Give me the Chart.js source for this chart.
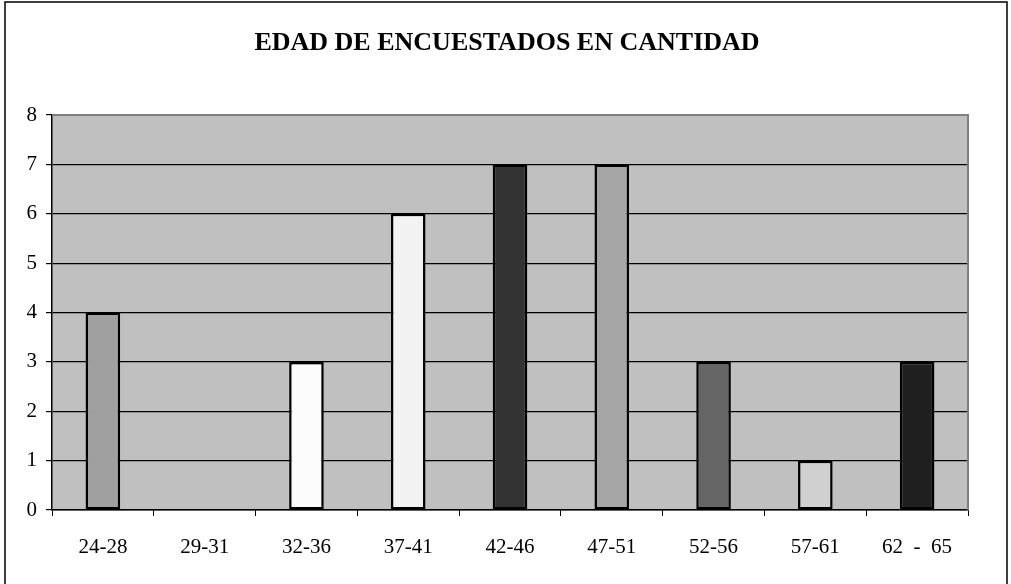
<!DOCTYPE html>
<html>
<head>
<meta charset="utf-8">
<script src="https://cdn.jsdelivr.net/npm/chart.js@4"></script>
<style>
  body { margin: 0; background: #fff; }
  #wrap { width: 1011px; height: 584px; position: relative; }
</style>
</head>
<body>
<div id="wrap"><canvas id="edadChart"></canvas></div>
<script>
// Data
const rangos = ['24-28', '29-31', '32-36', '37-41', '42-46', '47-51', '52-56', '57-61', '62  -  65'];
const cantidades = [4, 0, 3, 6, 7, 7, 3, 1, 3];
const colores = ['#A0A0A0', '#C0C0C0', '#FCFCFC', '#F2F2F2', '#333333', '#A6A6A6', '#666666', '#D0D0D0', '#1F1F1F'];
const yTicks = [0, 1, 2, 3, 4, 5, 6, 7, 8];
const titulo = 'EDAD DE ENCUESTADOS EN CANTIDAD';

// Grey plot background, grey top/right edge, outer frame and the title
const frame = {
  id: 'frame',
  beforeDraw(chart) {
    const { ctx, chartArea: a } = chart;
    ctx.save();
    ctx.fillStyle = '#C0C0C0';
    ctx.fillRect(a.left, a.top, a.right - a.left, a.bottom - a.top);
    ctx.restore();
  },
  afterDraw(chart) {
    const { ctx, chartArea: a } = chart;
    ctx.save();
    ctx.strokeStyle = '#808080';
    ctx.lineWidth = 2;
    ctx.beginPath();
    ctx.moveTo(a.left, a.top);
    ctx.lineTo(a.right, a.top);
    ctx.lineTo(a.right, a.bottom);
    ctx.stroke();
    ctx.strokeStyle = '#000';
    ctx.lineWidth = 1.5;
    ctx.beginPath();
    ctx.moveTo(5, 600);
    ctx.lineTo(5, 2);
    ctx.lineTo(1007, 2);
    ctx.lineTo(1007, 600);
    ctx.stroke();
    ctx.fillStyle = '#000';
    ctx.font = 'bold 26px "Liberation Serif"';
    ctx.textAlign = 'center';
    ctx.textBaseline = 'middle';
    ctx.fillText(titulo, 507, 43);
    ctx.restore();
  }
};

const ctx = document.getElementById('edadChart').getContext('2d');
new Chart(ctx, {
  type: 'bar',
  data: {
    labels: rangos,
    datasets: [{
      label: 'Cantidad',
      data: cantidades,
      backgroundColor: colores,
      borderColor: '#000',
      borderWidth: 2.5,
      borderSkipped: false,
      barPercentage: 0.34,
      categoryPercentage: 1
    }]
  },
  options: {
    responsive: true,
    maintainAspectRatio: false,
    animation: false,
    layout: { padding: { left: 0, right: 43, top: 115, bottom: 0 } },
    plugins: {
      legend: { display: false },
      tooltip: { enabled: false },
      title: { display: false }
    },
    scales: {
      x: {
        grid: { display: true, drawOnChartArea: false, offset: true, color: '#000', tickLength: 6 },
        border: { color: '#000', width: 1.5 },
        ticks: { color: '#000', padding: 19, maxRotation: 0, font: { family: 'Liberation Serif', size: 21 } },
        afterFit(scale) { scale.height = 74; }
      },
      y: {
        min: 0,
        max: 8,
        afterBuildTicks(scale) { scale.ticks = yTicks.map(v => ({ value: v })); },
        grid: { color: '#000', lineWidth: 1.2, tickLength: 6 },
        border: { color: '#000', width: 1.5 },
        ticks: { color: '#000', padding: 9, font: { family: 'Liberation Serif', size: 21 } },
        afterFit(scale) { scale.width = 52; }
      }
    }
  },
  plugins: [frame]
});
</script>
</body>
</html>
